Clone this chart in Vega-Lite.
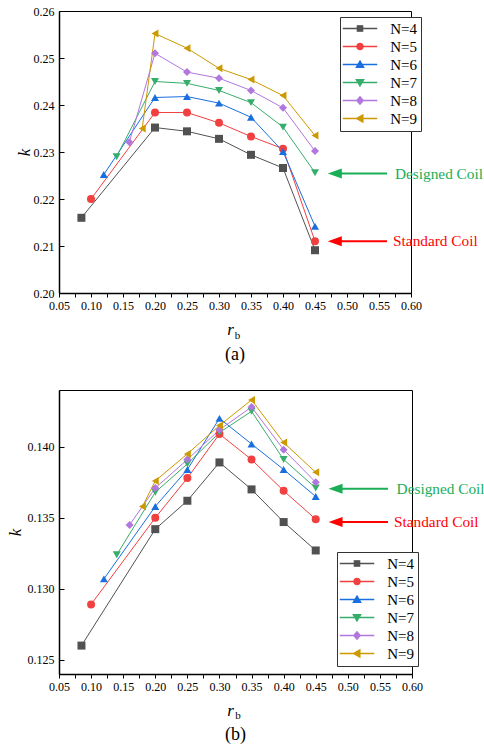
{
  "$schema": "https://vega.github.io/schema/vega-lite/v6.json",
  "background": "white",
  "padding": {"left": 5, "top": 4, "right": 0, "bottom": 0},
  "config": {
    "font": "Liberation Serif",
    "view": {"stroke": "black", "strokeWidth": 1},
    "axis": {"labelFont": "Liberation Serif", "titleFont": "Liberation Serif", "labelFontSize": 12, "titleFontSize": 17, "titleFontWeight": "normal", "labelColor": "black", "titleColor": "black", "domainColor": "black", "tickColor": "black", "domainWidth": 1.5, "tickWidth": 1, "grid": false, "labelPadding": 3, "labelFlush": false},
    "title": {"font": "Liberation Serif", "fontSize": 18, "fontWeight": "normal", "color": "black", "orient": "bottom", "offset": 5},
    "legend": {"labelFont": "Liberation Serif", "labelFontSize": 15, "labelColor": "black", "strokeColor": "#333333", "fillColor": "white", "padding": 4, "rowPadding": 2, "symbolSize": 81, "symbolOffset": 8.5, "labelOffset": 22.7, "symbolStrokeWidth": 1.2}
  },
  "datasets": {
    "a": [
      {"N": "N=4", "rb": 0.085, "k": 0.2160}, {"N": "N=4", "rb": 0.2, "k": 0.2352}, {"N": "N=4", "rb": 0.25, "k": 0.2344}, {"N": "N=4", "rb": 0.3, "k": 0.2328}, {"N": "N=4", "rb": 0.35, "k": 0.2294}, {"N": "N=4", "rb": 0.4, "k": 0.2266}, {"N": "N=4", "rb": 0.45, "k": 0.2091},
      {"N": "N=5", "rb": 0.1, "k": 0.2200}, {"N": "N=5", "rb": 0.2, "k": 0.2384}, {"N": "N=5", "rb": 0.25, "k": 0.2384}, {"N": "N=5", "rb": 0.3, "k": 0.2362}, {"N": "N=5", "rb": 0.35, "k": 0.2333}, {"N": "N=5", "rb": 0.4, "k": 0.2307}, {"N": "N=5", "rb": 0.45, "k": 0.2110},
      {"N": "N=6", "rb": 0.12, "k": 0.2252}, {"N": "N=6", "rb": 0.2, "k": 0.2416}, {"N": "N=6", "rb": 0.25, "k": 0.2418}, {"N": "N=6", "rb": 0.3, "k": 0.2404}, {"N": "N=6", "rb": 0.35, "k": 0.2374}, {"N": "N=6", "rb": 0.4, "k": 0.2301}, {"N": "N=6", "rb": 0.45, "k": 0.2142},
      {"N": "N=7", "rb": 0.14, "k": 0.2290}, {"N": "N=7", "rb": 0.2, "k": 0.2450}, {"N": "N=7", "rb": 0.25, "k": 0.2446}, {"N": "N=7", "rb": 0.3, "k": 0.2431}, {"N": "N=7", "rb": 0.35, "k": 0.2405}, {"N": "N=7", "rb": 0.4, "k": 0.2353}, {"N": "N=7", "rb": 0.45, "k": 0.2256},
      {"N": "N=8", "rb": 0.16, "k": 0.2321}, {"N": "N=8", "rb": 0.2, "k": 0.2510}, {"N": "N=8", "rb": 0.25, "k": 0.2470}, {"N": "N=8", "rb": 0.3, "k": 0.2457}, {"N": "N=8", "rb": 0.35, "k": 0.2431}, {"N": "N=8", "rb": 0.4, "k": 0.2394}, {"N": "N=8", "rb": 0.45, "k": 0.2302},
      {"N": "N=9", "rb": 0.18, "k": 0.2350}, {"N": "N=9", "rb": 0.2, "k": 0.2552}, {"N": "N=9", "rb": 0.25, "k": 0.2521}, {"N": "N=9", "rb": 0.3, "k": 0.2478}, {"N": "N=9", "rb": 0.35, "k": 0.2454}, {"N": "N=9", "rb": 0.4, "k": 0.2420}, {"N": "N=9", "rb": 0.45, "k": 0.2335}
    ],
    "b": [
      {"N": "N=4", "rb": 0.085, "k": 0.1260}, {"N": "N=4", "rb": 0.2, "k": 0.1342}, {"N": "N=4", "rb": 0.25, "k": 0.1362}, {"N": "N=4", "rb": 0.3, "k": 0.1389}, {"N": "N=4", "rb": 0.35, "k": 0.1370}, {"N": "N=4", "rb": 0.4, "k": 0.1347}, {"N": "N=4", "rb": 0.45, "k": 0.1327},
      {"N": "N=5", "rb": 0.1, "k": 0.1289}, {"N": "N=5", "rb": 0.2, "k": 0.1350}, {"N": "N=5", "rb": 0.25, "k": 0.1378}, {"N": "N=5", "rb": 0.3, "k": 0.1409}, {"N": "N=5", "rb": 0.35, "k": 0.1391}, {"N": "N=5", "rb": 0.4, "k": 0.1369}, {"N": "N=5", "rb": 0.45, "k": 0.1349},
      {"N": "N=6", "rb": 0.12, "k": 0.1307}, {"N": "N=6", "rb": 0.2, "k": 0.1358}, {"N": "N=6", "rb": 0.25, "k": 0.1384}, {"N": "N=6", "rb": 0.3, "k": 0.1420}, {"N": "N=6", "rb": 0.35, "k": 0.1402}, {"N": "N=6", "rb": 0.4, "k": 0.1384}, {"N": "N=6", "rb": 0.45, "k": 0.1365},
      {"N": "N=7", "rb": 0.14, "k": 0.1324}, {"N": "N=7", "rb": 0.2, "k": 0.1368}, {"N": "N=7", "rb": 0.25, "k": 0.1388}, {"N": "N=7", "rb": 0.3, "k": 0.1410}, {"N": "N=7", "rb": 0.35, "k": 0.1425}, {"N": "N=7", "rb": 0.4, "k": 0.1391}, {"N": "N=7", "rb": 0.45, "k": 0.1371},
      {"N": "N=8", "rb": 0.16, "k": 0.1345}, {"N": "N=8", "rb": 0.2, "k": 0.1371}, {"N": "N=8", "rb": 0.25, "k": 0.1391}, {"N": "N=8", "rb": 0.3, "k": 0.1412}, {"N": "N=8", "rb": 0.35, "k": 0.1428}, {"N": "N=8", "rb": 0.4, "k": 0.1398}, {"N": "N=8", "rb": 0.45, "k": 0.1375},
      {"N": "N=9", "rb": 0.18, "k": 0.1358}, {"N": "N=9", "rb": 0.2, "k": 0.1376}, {"N": "N=9", "rb": 0.25, "k": 0.1395}, {"N": "N=9", "rb": 0.3, "k": 0.1415}, {"N": "N=9", "rb": 0.35, "k": 0.1433}, {"N": "N=9", "rb": 0.4, "k": 0.1403}, {"N": "N=9", "rb": 0.45, "k": 0.1382}
    ],
    "ann_a": [
      {"label": "Designed Coil", "tip": 0.47, "tail": 0.5625, "tx": 0.575, "k": 0.2254},
      {"label": "Standard Coil", "tip": 0.47, "tail": 0.5625, "tx": 0.572, "k": 0.2110}
    ],
    "ann_b": [
      {"label": "Designed Coil", "tip": 0.47, "tail": 0.5626, "tx": 0.576, "k": 0.13705},
      {"label": "Standard Coil", "tip": 0.47, "tail": 0.5626, "tx": 0.572, "k": 0.1347}
    ],
    "sub_a": [{"s": "b", "rb": 0.3289, "k": 0.19085}],
    "sub_b": [{"s": "b", "rb": 0.329, "k": 0.12105}]
  },
  "resolve": {"scale": {"x": "independent", "y": "independent", "color": "independent", "shape": "independent", "fill": "independent", "stroke": "independent"}},
  "bounds": "flush",
  "spacing": 97,
  "vconcat": [
    {
      "width": 352,
      "height": 282,
      "title": {"text": "(a)"},
      "layer": [
        {
          "data": {"name": "a"},
          "mark": {"type": "line", "strokeWidth": 1},
          "encoding": {
            "x": {"field": "rb", "type": "quantitative", "scale": {"domain": [0.05, 0.6], "nice": false},
              "axis": {"values": [0.05, 0.075, 0.1, 0.125, 0.15, 0.175, 0.2, 0.225, 0.25, 0.275, 0.3, 0.325, 0.35, 0.375, 0.4, 0.425, 0.45, 0.475, 0.5, 0.525, 0.55, 0.575, 0.6],
                "tickCount": 40,
                "labelExpr": "(round(datum.value*40)%2)==0 ? format(datum.value,'.2f') : ''",
                "tickSize": 4, "labelOverlap": false,
                "title": "r", "titleFontStyle": "italic", "titlePadding": 10, "titleX": 171}},
            "y": {"field": "k", "type": "quantitative", "scale": {"domain": [0.2, 0.26], "nice": false, "zero": false},
              "axis": {"values": [0.2, 0.21, 0.22, 0.23, 0.24, 0.25, 0.26], "tickCount": 20, "format": ".2f", "tickSize": -5, "labelPadding": 10, "title": "k", "titleFontStyle": "italic", "titlePadding": 0}},
            "color": {"field": "N", "type": "nominal", "scale": {"domain": ["N=4", "N=5", "N=6", "N=7", "N=8", "N=9"], "range": ["#515151", "#F14040", "#1A6FDF", "#37AD6B", "#B177DE", "#CC9900"]},
              "legend": {"title": null, "orient": "none", "legendX": 281, "legendY": 6}}
          }
        },
        {"data": {"name": "a"}, "transform": [{"filter": "datum.N === 'N=4'"}], "mark": {"type": "point", "filled": true, "size": 64, "opacity": 1, "shape": "square"},
          "encoding": {"x": {"field": "rb", "type": "quantitative"}, "y": {"field": "k", "type": "quantitative"}, "color": {"field": "N", "type": "nominal", "legend": {"title": null, "orient": "none", "legendX": 281, "legendY": 6}}}},
        {"data": {"name": "a"}, "transform": [{"filter": "datum.N === 'N=5'"}], "mark": {"type": "point", "filled": true, "size": 64, "opacity": 1, "shape": "circle"},
          "encoding": {"x": {"field": "rb", "type": "quantitative"}, "y": {"field": "k", "type": "quantitative"}, "color": {"field": "N", "type": "nominal", "legend": {"title": null, "orient": "none", "legendX": 281, "legendY": 6}}}},
        {"data": {"name": "a"}, "transform": [{"filter": "datum.N === 'N=6'"}], "mark": {"type": "point", "filled": true, "size": 64, "opacity": 1, "shape": "triangle-up"},
          "encoding": {"x": {"field": "rb", "type": "quantitative"}, "y": {"field": "k", "type": "quantitative"}, "color": {"field": "N", "type": "nominal", "legend": {"title": null, "orient": "none", "legendX": 281, "legendY": 6}}}},
        {"data": {"name": "a"}, "transform": [{"filter": "datum.N === 'N=7'"}], "mark": {"type": "point", "filled": true, "size": 64, "opacity": 1, "shape": "triangle-down"},
          "encoding": {"x": {"field": "rb", "type": "quantitative"}, "y": {"field": "k", "type": "quantitative"}, "color": {"field": "N", "type": "nominal", "legend": {"title": null, "orient": "none", "legendX": 281, "legendY": 6}}}},
        {"data": {"name": "a"}, "transform": [{"filter": "datum.N === 'N=8'"}], "mark": {"type": "point", "filled": true, "size": 64, "opacity": 1, "shape": "diamond"},
          "encoding": {"x": {"field": "rb", "type": "quantitative"}, "y": {"field": "k", "type": "quantitative"}, "color": {"field": "N", "type": "nominal", "legend": {"title": null, "orient": "none", "legendX": 281, "legendY": 6}}}},
        {"data": {"name": "a"}, "transform": [{"filter": "datum.N === 'N=9'"}], "mark": {"type": "point", "filled": true, "size": 64, "opacity": 1, "shape": "triangle-left"},
          "encoding": {"x": {"field": "rb", "type": "quantitative"}, "y": {"field": "k", "type": "quantitative"}, "color": {"field": "N", "type": "nominal", "legend": {"title": null, "orient": "none", "legendX": 281, "legendY": 6}}}},
        {
          "data": {"name": "a"},
          "transform": [{"filter": "false"}],
          "mark": {"type": "point", "filled": true, "opacity": 1},
          "encoding": {
            "x": {"field": "rb", "type": "quantitative"},
            "y": {"field": "k", "type": "quantitative"},
            "color": {"field": "N", "type": "nominal", "legend": {"title": null, "orient": "none", "legendX": 281, "legendY": 6}},
            "shape": {"field": "N", "type": "nominal", "scale": {"domain": ["N=4", "N=5", "N=6", "N=7", "N=8", "N=9"],
              "range": ["M-3.7,-0.05H3.7V0.05H-3.7ZM-0.6,-0.6H0.6V0.6H-0.6Z", "M-3.7,-0.05H3.7V0.05H-3.7ZM-0.7,0A0.7,0.7,0,1,1,0.7,0A0.7,0.7,0,1,1,-0.7,0Z", "M-3.7,-0.05H3.7V0.05H-3.7ZM0,-0.8L0.85,0.65H-0.85Z", "M-3.7,-0.05H3.7V0.05H-3.7ZM0,0.8L-0.85,-0.65H0.85Z", "M-3.7,-0.05H3.7V0.05H-3.7ZM0,-0.85L0.75,0L0,0.85L-0.75,0Z", "M-3.7,-0.05H3.7V0.05H-3.7ZM-0.8,0L0.65,-0.85V0.85Z"]},
              "legend": {"title": null, "orient": "none", "legendX": 281, "legendY": 6}}
          }
        },
        {
          "data": {"name": "ann_a"},
          "mark": {"type": "rule", "strokeWidth": 2, "xOffset": 6},
          "encoding": {
            "x": {"field": "tip", "type": "quantitative"},
            "x2": {"field": "tail"},
            "y": {"field": "k", "type": "quantitative"},
            "stroke": {"field": "label", "type": "nominal", "scale": {"domain": ["Designed Coil", "Standard Coil"], "range": ["#1aae57", "#ff0000"]}, "legend": null}
          }
        },
        {
          "data": {"name": "ann_a"},
          "mark": {"type": "point", "filled": true, "opacity": 1, "size": 64, "shape": "M0,0L3.5,-1.25L3.5,1.25Z"},
          "encoding": {
            "x": {"field": "tip", "type": "quantitative"},
            "y": {"field": "k", "type": "quantitative"},
            "fill": {"field": "label", "type": "nominal", "scale": {"domain": ["Designed Coil", "Standard Coil"], "range": ["#1aae57", "#ff0000"]}, "legend": null}
          }
        },
        {
          "data": {"name": "ann_a"},
          "mark": {"type": "text", "align": "left", "baseline": "middle", "fontSize": 15.3, "font": "Liberation Serif"},
          "encoding": {
            "x": {"field": "tx", "type": "quantitative"},
            "y": {"field": "k", "type": "quantitative"},
            "text": {"field": "label"},
            "fill": {"field": "label", "type": "nominal", "legend": null}
          }
        },
        {
          "data": {"name": "sub_a"},
          "mark": {"type": "text", "fontSize": 11, "font": "Liberation Serif", "baseline": "middle", "align": "center", "color": "black"},
          "encoding": {"x": {"field": "rb", "type": "quantitative"}, "y": {"field": "k", "type": "quantitative"}, "text": {"field": "s"}}
        }
      ]
    },
    {
      "width": 353,
      "height": 284,
      "title": {"text": "(b)"},
      "layer": [
        {
          "data": {"name": "b"},
          "mark": {"type": "line", "strokeWidth": 1},
          "encoding": {
            "x": {"field": "rb", "type": "quantitative", "scale": {"domain": [0.05, 0.6], "nice": false},
              "axis": {"values": [0.05, 0.075, 0.1, 0.125, 0.15, 0.175, 0.2, 0.225, 0.25, 0.275, 0.3, 0.325, 0.35, 0.375, 0.4, 0.425, 0.45, 0.475, 0.5, 0.525, 0.55, 0.575, 0.6],
                "tickCount": 40,
                "labelExpr": "(round(datum.value*40)%2)==0 ? format(datum.value,'.2f') : ''",
                "tickSize": 4, "labelOverlap": false,
                "title": "r", "titleFontStyle": "italic", "titlePadding": 10, "titleX": 171}},
            "y": {"field": "k", "type": "quantitative", "scale": {"domain": [0.124, 0.144], "nice": false, "zero": false},
              "axis": {"values": [0.125, 0.13, 0.135, 0.14], "tickCount": 20, "format": ".3f", "tickSize": -5, "labelPadding": 10, "title": "k", "titleFontStyle": "italic", "titlePadding": 3}},
            "color": {"field": "N", "type": "nominal", "scale": {"domain": ["N=4", "N=5", "N=6", "N=7", "N=8", "N=9"], "range": ["#515151", "#F14040", "#1A6FDF", "#37AD6B", "#B177DE", "#CC9900"]},
              "legend": {"title": null, "orient": "none", "legendX": 278, "legendY": 162}}
          }
        },
        {"data": {"name": "b"}, "transform": [{"filter": "datum.N === 'N=4'"}], "mark": {"type": "point", "filled": true, "size": 64, "opacity": 1, "shape": "square"},
          "encoding": {"x": {"field": "rb", "type": "quantitative"}, "y": {"field": "k", "type": "quantitative"}, "color": {"field": "N", "type": "nominal", "legend": {"title": null, "orient": "none", "legendX": 278, "legendY": 162}}}},
        {"data": {"name": "b"}, "transform": [{"filter": "datum.N === 'N=5'"}], "mark": {"type": "point", "filled": true, "size": 64, "opacity": 1, "shape": "circle"},
          "encoding": {"x": {"field": "rb", "type": "quantitative"}, "y": {"field": "k", "type": "quantitative"}, "color": {"field": "N", "type": "nominal", "legend": {"title": null, "orient": "none", "legendX": 278, "legendY": 162}}}},
        {"data": {"name": "b"}, "transform": [{"filter": "datum.N === 'N=6'"}], "mark": {"type": "point", "filled": true, "size": 64, "opacity": 1, "shape": "triangle-up"},
          "encoding": {"x": {"field": "rb", "type": "quantitative"}, "y": {"field": "k", "type": "quantitative"}, "color": {"field": "N", "type": "nominal", "legend": {"title": null, "orient": "none", "legendX": 278, "legendY": 162}}}},
        {"data": {"name": "b"}, "transform": [{"filter": "datum.N === 'N=7'"}], "mark": {"type": "point", "filled": true, "size": 64, "opacity": 1, "shape": "triangle-down"},
          "encoding": {"x": {"field": "rb", "type": "quantitative"}, "y": {"field": "k", "type": "quantitative"}, "color": {"field": "N", "type": "nominal", "legend": {"title": null, "orient": "none", "legendX": 278, "legendY": 162}}}},
        {"data": {"name": "b"}, "transform": [{"filter": "datum.N === 'N=8'"}], "mark": {"type": "point", "filled": true, "size": 64, "opacity": 1, "shape": "diamond"},
          "encoding": {"x": {"field": "rb", "type": "quantitative"}, "y": {"field": "k", "type": "quantitative"}, "color": {"field": "N", "type": "nominal", "legend": {"title": null, "orient": "none", "legendX": 278, "legendY": 162}}}},
        {"data": {"name": "b"}, "transform": [{"filter": "datum.N === 'N=9'"}], "mark": {"type": "point", "filled": true, "size": 64, "opacity": 1, "shape": "triangle-left"},
          "encoding": {"x": {"field": "rb", "type": "quantitative"}, "y": {"field": "k", "type": "quantitative"}, "color": {"field": "N", "type": "nominal", "legend": {"title": null, "orient": "none", "legendX": 278, "legendY": 162}}}},
        {
          "data": {"name": "b"},
          "transform": [{"filter": "false"}],
          "mark": {"type": "point", "filled": true, "opacity": 1},
          "encoding": {
            "x": {"field": "rb", "type": "quantitative"},
            "y": {"field": "k", "type": "quantitative"},
            "color": {"field": "N", "type": "nominal", "legend": {"title": null, "orient": "none", "legendX": 278, "legendY": 162}},
            "shape": {"field": "N", "type": "nominal", "scale": {"domain": ["N=4", "N=5", "N=6", "N=7", "N=8", "N=9"],
              "range": ["M-3.7,-0.05H3.7V0.05H-3.7ZM-0.6,-0.6H0.6V0.6H-0.6Z", "M-3.7,-0.05H3.7V0.05H-3.7ZM-0.7,0A0.7,0.7,0,1,1,0.7,0A0.7,0.7,0,1,1,-0.7,0Z", "M-3.7,-0.05H3.7V0.05H-3.7ZM0,-0.8L0.85,0.65H-0.85Z", "M-3.7,-0.05H3.7V0.05H-3.7ZM0,0.8L-0.85,-0.65H0.85Z", "M-3.7,-0.05H3.7V0.05H-3.7ZM0,-0.85L0.75,0L0,0.85L-0.75,0Z", "M-3.7,-0.05H3.7V0.05H-3.7ZM-0.8,0L0.65,-0.85V0.85Z"]},
              "legend": {"title": null, "orient": "none", "legendX": 278, "legendY": 162}}
          }
        },
        {
          "data": {"name": "ann_b"},
          "mark": {"type": "rule", "strokeWidth": 2, "xOffset": 6},
          "encoding": {
            "x": {"field": "tip", "type": "quantitative"},
            "x2": {"field": "tail"},
            "y": {"field": "k", "type": "quantitative"},
            "stroke": {"field": "label", "type": "nominal", "scale": {"domain": ["Designed Coil", "Standard Coil"], "range": ["#1aae57", "#ff0000"]}, "legend": null}
          }
        },
        {
          "data": {"name": "ann_b"},
          "mark": {"type": "point", "filled": true, "opacity": 1, "size": 64, "shape": "M0,0L3.5,-1.25L3.5,1.25Z"},
          "encoding": {
            "x": {"field": "tip", "type": "quantitative"},
            "y": {"field": "k", "type": "quantitative"},
            "fill": {"field": "label", "type": "nominal", "scale": {"domain": ["Designed Coil", "Standard Coil"], "range": ["#1aae57", "#ff0000"]}, "legend": null}
          }
        },
        {
          "data": {"name": "ann_b"},
          "mark": {"type": "text", "align": "left", "baseline": "middle", "fontSize": 15.3, "font": "Liberation Serif"},
          "encoding": {
            "x": {"field": "tx", "type": "quantitative"},
            "y": {"field": "k", "type": "quantitative"},
            "text": {"field": "label"},
            "fill": {"field": "label", "type": "nominal", "legend": null}
          }
        },
        {
          "data": {"name": "sub_b"},
          "mark": {"type": "text", "fontSize": 11, "font": "Liberation Serif", "baseline": "middle", "align": "center", "color": "black"},
          "encoding": {"x": {"field": "rb", "type": "quantitative"}, "y": {"field": "k", "type": "quantitative"}, "text": {"field": "s"}}
        }
      ]
    }
  ]
}
